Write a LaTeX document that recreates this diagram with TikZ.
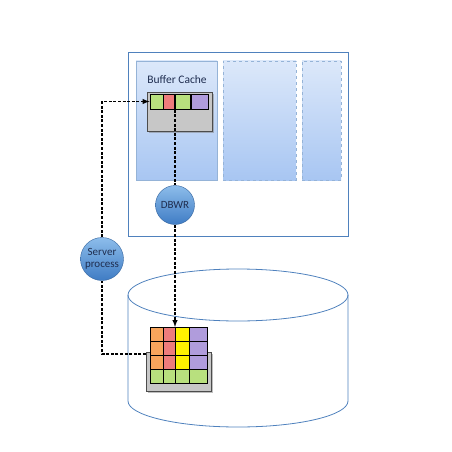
\documentclass[tikz,border=0pt]{standalone}
\usepackage{fontspec}
\setmainfont{Carlito}
\usetikzlibrary{shadows}
\definecolor{myFrame}{HTML}{4F81BD}
\definecolor{myPanelTop}{HTML}{DCE8FA}
\definecolor{myPanelBot}{HTML}{A8C6F2}
\definecolor{myBallTop}{HTML}{8DBDEB}
\definecolor{myBallBot}{HTML}{3F7CC4}
\definecolor{myGreen}{HTML}{B8E07E}
\definecolor{myRed}{HTML}{EE7C7C}
\definecolor{myPurple}{HTML}{B09CDC}
\definecolor{myOrange}{HTML}{F8A55C}
\definecolor{myYellow}{HTML}{FFF200}
\definecolor{myText}{HTML}{1F2D4F}

\begin{document}
\begin{tikzpicture}[x=1pt, y=-1pt, >=latex]
  \tikzstyle{P}=[draw=myFrame!60, top color=myPanelTop, bottom color=myPanelBot, inner sep=0pt, minimum height=119pt]
  \tikzstyle{G}=[draw=black!70, fill=black!22, drop shadow, inner sep=0pt, minimum width=65pt, minimum height=39pt]
  \tikzstyle{K}=[draw=black, thick, inner sep=0pt]
  \tikzstyle{R}=[circle, draw=myBallBot!80!black, top color=myBallTop, bottom color=myBallBot, text=myText, align=center, inner sep=1pt, font=\fontsize{11}{11.5}\selectfont]
  \tikzstyle{W}=[dash pattern=on 3pt off 1.6pt, line width=1.4pt]

  \useasboundingbox (0,0) rectangle (452,452);

  % instance
  \node[draw=myFrame, thick, minimum width=220pt, minimum height=184pt] at (238,144) (inst) {};
  \node[P, minimum width=81pt] at (176.5,120.5) (cache) {};
  \node[P, dashed, minimum width=73pt] at (259.5,120.5) (pool2) {};
  \node[P, dashed, minimum width=39pt] at (321.5,120.5) (pool3) {};
  \node[font=\fontsize{11.5}{12}\selectfont, text=myText] at (177,80) (cachelbl) {Buffer Cache};

  \node[G] at (179.5,111.5) (bufbox) {};
  \node[K, fill=myGreen, minimum width=13pt, minimum height=15pt] at (156.5,101.5) (b1) {};
  \node[K, fill=myRed, minimum width=11pt, minimum height=15pt] at (169,101.5) (b2) {};
  \node[K, fill=myGreen, minimum width=15pt, minimum height=15pt] at (182.5,101.5) (b3) {};
  \node[K, fill=myPurple, minimum width=17pt, minimum height=15pt] at (199.5,101.5) (b4) {};

  \node[R, minimum size=39pt] at (175,205) (dbwr) {DBWR};
  \node[R, minimum size=43pt, inner sep=0pt] at (102,259) (server) {Server\\process};

  % datafile
  \draw[myFrame, thick] (238,295) ellipse [x radius=110pt, y radius=26pt];
  \draw[myFrame, thick] (128,295) -- (128,401) arc [start angle=180, end angle=360, x radius=110pt, y radius=26pt] -- (348,295);

  \node[G] at (178.5,371.5) (blkbox) {};
  \foreach \y/\c in {334/1, 348/2, 362/3} {
    \node[K, fill=myOrange, minimum width=13pt, minimum height=14pt] at (156.5,\y) (o\c) {};
    \node[K, fill=myRed, minimum width=12pt, minimum height=14pt] at (169,\y) (r\c) {};
    \node[K, fill=myYellow, minimum width=14pt, minimum height=14pt] at (182,\y) (y\c) {};
    \node[K, fill=myPurple, minimum width=18pt, minimum height=14pt] at (198,\y) (p\c) {};
  }
  \node[K, fill=myGreen, minimum width=13pt, minimum height=14pt] at (156.5,376) (g1) {};
  \node[K, fill=myGreen, minimum width=12pt, minimum height=14pt] at (169,376) (g2) {};
  \node[K, fill=myGreen, minimum width=14pt, minimum height=14pt] at (182,376) (g3) {};
  \node[K, fill=myGreen, minimum width=18pt, minimum height=14pt] at (198,376) (g4) {};

  \coordinate (wrtop) at (175,96);
  \coordinate (wrend) at (175,327);
  \coordinate (rdstart) at (146,354);

  \draw[W] (wrtop) -- (dbwr.north);
  \draw[W, ->] (dbwr.south) -- (wrend);
  \draw[W] (rdstart) -| (server.south);
  \draw[W, ->] (server.north) |- (b1.west);

\end{tikzpicture}
\end{document}
